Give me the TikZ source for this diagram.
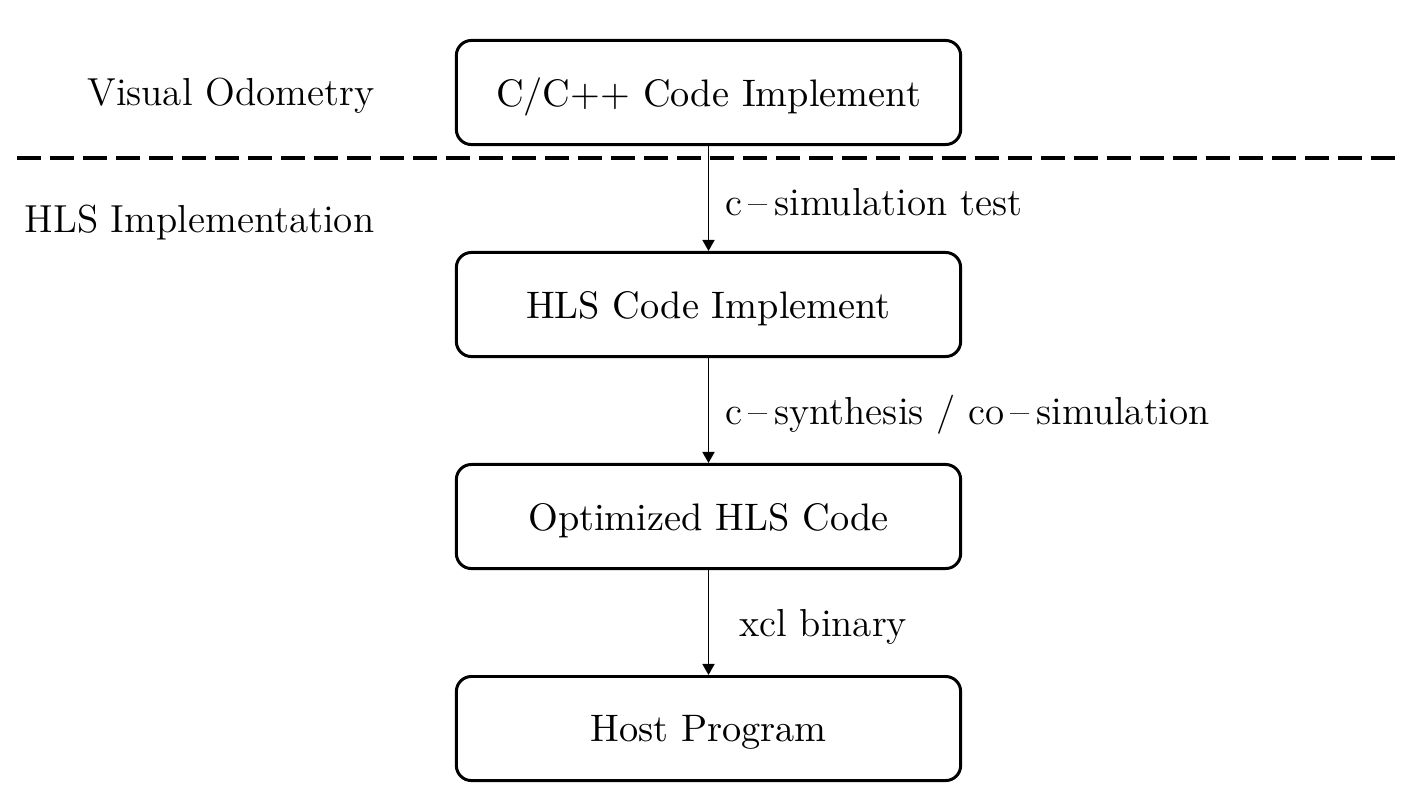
\documentclass[tikz,border=0pt]{standalone}
\usetikzlibrary{arrows.meta}
\begin{document}
\begin{tikzpicture}[x=0.01cm,y=-0.01cm,
  box/.style={draw, line width=0.85pt, rounded corners=0.15cm, minimum width=5.04cm, minimum height=1.04cm, inner sep=0pt, text depth=0pt, font=\fontsize{10.9}{13}\selectfont},
  lbl/.style={inner sep=0pt, font=\fontsize{11.1}{13}\selectfont},
  arr/.style={-{Triangle[width=1.2mm,length=1.1mm]}, line width=0.45pt},
  sep/.style={dash pattern=on 0.24cm off 0.09cm, line width=1.1pt}]
\useasboundingbox (0,0) rectangle (1422,811);
\node[box] (b1) at (708.5,92.5) {C/C++ Code Implement};
\node[box] (b2) at (708.5,304.5) {HLS Code Implement};
\node[box] (b3) at (708.5,516.5) {Optimized HLS Code};
\node[box] (b4) at (708.5,728.5) {Host Program};
\node[lbl, anchor=east] (vo) at (375,96) {Visual Odometry};
\node[lbl, anchor=east] (hls) at (375,223) {HLS Implementation};
\coordinate (dl) at (17,158);
\coordinate (dr) at (1395,158);
\draw[sep] (dl) -- (dr);
\draw[arr] (b1) -- node[lbl, anchor=west, xshift=0.16cm, yshift=-0.04cm] {c\,--\,simulation test} (b2);
\draw[arr] (b2) -- node[lbl, anchor=west, xshift=0.16cm, yshift=-0.04cm] {c\,--\,synthesis / co\,--\,simulation} (b3);
\draw[arr] (b3) -- node[lbl, anchor=west, xshift=0.30cm, yshift=-0.04cm] {xcl binary} (b4);
\end{tikzpicture}
\end{document}
